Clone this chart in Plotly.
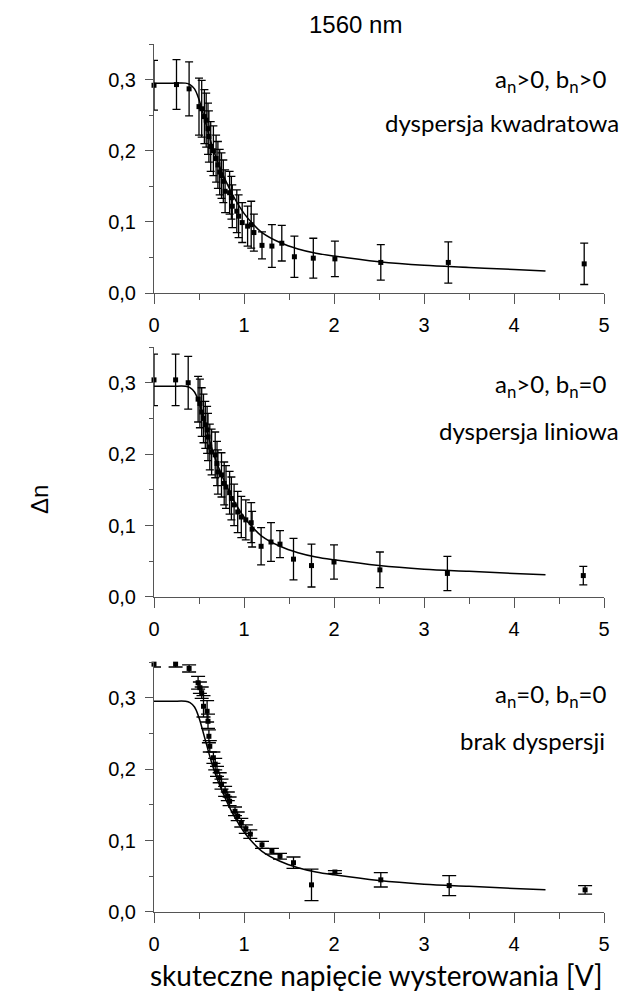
import plotly.graph_objects as go

# fitted curve (same model drawn in every panel)
x_fit = [0.0, 0.2, 0.35, 0.40, 0.45, 0.50, 0.55, 0.60, 0.65, 0.70, 0.80, 0.90,
         1.00, 1.10, 1.20, 1.40, 1.60, 1.80, 2.00, 2.50, 3.00, 3.50, 4.00, 4.35]
y_fit = [0.295, 0.295, 0.295, 0.293, 0.287, 0.272, 0.250, 0.227, 0.205, 0.187, 0.157, 0.132,
         0.112, 0.097, 0.085, 0.071, 0.062, 0.056, 0.052, 0.044, 0.039, 0.036, 0.033, 0.031]

# a_n>0, b_n>0 - dyspersja kwadratowa
x_kw = [0.00, 0.25, 0.39, 0.50, 0.53, 0.56, 0.58, 0.60, 0.61, 0.63, 0.66, 0.69, 0.71, 0.73,
        0.75, 0.77, 0.79, 0.84, 0.86, 0.87, 0.92, 0.94, 0.98, 1.04, 1.08, 1.11, 1.20, 1.31,
        1.42, 1.56, 1.77, 2.01, 2.52, 3.27, 4.78]
y_kw = [0.292, 0.293, 0.287, 0.262, 0.259, 0.248, 0.243, 0.231, 0.220, 0.206, 0.200, 0.189,
        0.180, 0.170, 0.165, 0.157, 0.143, 0.141, 0.134, 0.122, 0.115, 0.108, 0.099, 0.094,
        0.096, 0.085, 0.067, 0.066, 0.070, 0.051, 0.049, 0.048, 0.043, 0.043, 0.041]
err_kw = [0.035, 0.035, 0.038, 0.040, 0.040, 0.038, 0.038, 0.036, 0.036, 0.035, 0.035, 0.033,
          0.033, 0.032, 0.032, 0.030, 0.030, 0.030, 0.030, 0.030, 0.030, 0.030, 0.028, 0.028,
          0.033, 0.026, 0.019, 0.030, 0.025, 0.029, 0.028, 0.025, 0.025, 0.029, 0.029]

# a_n>0, b_n=0 - dyspersja liniowa
x_lin = [0.00, 0.24, 0.38, 0.49, 0.51, 0.53, 0.55, 0.57, 0.59, 0.60, 0.62, 0.64, 0.68, 0.70,
         0.71, 0.75, 0.78, 0.80, 0.84, 0.86, 0.89, 0.93, 0.97, 1.02, 1.08, 1.09, 1.19, 1.30,
         1.40, 1.55, 1.75, 2.00, 2.51, 3.26, 4.77]
y_lin = [0.304, 0.304, 0.300, 0.277, 0.271, 0.259, 0.250, 0.241, 0.234, 0.224, 0.210, 0.203,
         0.199, 0.187, 0.175, 0.171, 0.159, 0.154, 0.146, 0.138, 0.129, 0.119, 0.112, 0.108,
         0.104, 0.095, 0.071, 0.077, 0.074, 0.053, 0.044, 0.049, 0.038, 0.033, 0.030]
err_lin = [0.036, 0.036, 0.037, 0.032, 0.034, 0.034, 0.034, 0.033, 0.033, 0.033, 0.032, 0.032,
           0.032, 0.031, 0.031, 0.031, 0.030, 0.030, 0.030, 0.030, 0.029, 0.029, 0.029, 0.028,
           0.028, 0.025, 0.026, 0.027, 0.019, 0.029, 0.030, 0.024, 0.025, 0.024, 0.013]

# a_n=0, b_n=0 - brak dyspersji
x_br = [0.00, 0.24, 0.39, 0.49, 0.51, 0.53, 0.55, 0.59, 0.60, 0.61, 0.62, 0.66, 0.68, 0.70,
        0.73, 0.75, 0.79, 0.82, 0.84, 0.90, 0.93, 0.97, 1.02, 1.07, 1.20, 1.31, 1.40, 1.55,
        1.75, 2.01, 2.52, 3.28, 4.79]
y_br = [0.347, 0.347, 0.341, 0.321, 0.314, 0.307, 0.288, 0.281, 0.267, 0.246, 0.232, 0.216,
        0.207, 0.197, 0.188, 0.179, 0.169, 0.162, 0.155, 0.141, 0.134, 0.125, 0.116, 0.109,
        0.094, 0.085, 0.078, 0.069, 0.038, 0.056, 0.045, 0.037, 0.031]
err_br = [0.004, 0.004, 0.005, 0.009, 0.008, 0.008, 0.015, 0.015, 0.010, 0.009, 0.008, 0.008,
          0.008, 0.007, 0.007, 0.007, 0.007, 0.006, 0.006, 0.006, 0.006, 0.006, 0.006, 0.006,
          0.005, 0.004, 0.004, 0.008, 0.022, 0.002, 0.010, 0.014, 0.006]

panels = [
    (x_kw, y_kw, err_kw, 4, "a<sub>n</sub>>0, b<sub>n</sub>>0", "dyspersja kwadratowa"),
    (x_lin, y_lin, err_lin, 4, "a<sub>n</sub>>0, b<sub>n</sub>=0", "dyspersja liniowa"),
    (x_br, y_br, err_br, 7, "a<sub>n</sub>=0, b<sub>n</sub>=0", "brak dyspersji"),
]

# page has an 8px body margin, so the figure is drawn 8px in from the corner
domains = [[0.7131, 1.0], [0.3629, 0.6509], [0.0, 0.288]]
label_y = [(0.855, 0.683), (0.848, 0.668), (0.868, 0.688)]
label_x = [(1.009, 1.037), (1.009, 1.037), (1.009, 1.007)]

TICK_FONT = dict(family="Liberation Sans", size=20, color="black")
TEXT_FONT = dict(family="Lato", size=24, color="black")
AX = "#555"

fig = go.Figure()
layout = {}
annotations = []

for i, (xs, ys, es, capw, lab1, lab2) in enumerate(panels):
    n = i + 1
    xa = "x" if n == 1 else f"x{n}"
    ya = "y" if n == 1 else f"y{n}"

    fig.add_trace(go.Scatter(
        x=x_fit, y=y_fit, mode="lines", line=dict(color="black", width=1.5, shape="spline"),
        xaxis=xa, yaxis=ya, showlegend=False, hoverinfo="skip",
    ))
    fig.add_trace(go.Scatter(
        x=xs, y=ys, mode="markers",
        marker=dict(symbol="square", size=5, color="black"),
        error_y=dict(type="data", array=es, color="black", thickness=1.3, width=capw),
        xaxis=xa, yaxis=ya, showlegend=False, cliponaxis=False,
    ))

    xkey = "xaxis" if n == 1 else f"xaxis{n}"
    ykey = "yaxis" if n == 1 else f"yaxis{n}"
    layout[xkey] = dict(
        domain=[0, 1], anchor=ya, range=[0, 5], dtick=1, tick0=0,
        showline=True, linecolor=AX, linewidth=1, zeroline=False, showgrid=False,
        ticks="outside", ticklen=10, tickcolor=AX, tickfont=TICK_FONT, ticklabelstandoff=4,
        minor=dict(dtick=0.5, tick0=0, ticks="outside", ticklen=6, tickcolor=AX),
    )
    layout[ykey] = dict(
        domain=domains[i], anchor=xa, range=[0, 0.35], tickvals=[0, 0.1, 0.2, 0.3],
        tickformat=".1f", showline=True, linecolor=AX, linewidth=1, zeroline=False,
        showgrid=False, ticks="outside", ticklen=8, tickcolor=AX, tickfont=TICK_FONT,
        ticklabelstandoff=5,
        minor=dict(dtick=0.05, tick0=0, ticks="outside", ticklen=4, tickcolor=AX),
    )

    annotations.append(dict(
        text=lab1, xref=f"{xa} domain", yref=f"{ya} domain", x=label_x[i][0], y=label_y[i][0],
        xanchor="right", yanchor="middle", showarrow=False, font=TEXT_FONT,
    ))
    annotations.append(dict(
        text=lab2, xref=f"{xa} domain", yref=f"{ya} domain", x=label_x[i][1], y=label_y[i][1],
        xanchor="right", yanchor="middle", showarrow=False, font=TEXT_FONT,
    ))

annotations.append(dict(
    text="1560 nm", xref="paper", yref="paper", x=0.447, y=1.022, xanchor="center",
    yanchor="middle", showarrow=False, font=dict(family="Liberation Sans", size=24, color="black"),
))
annotations.append(dict(
    text="skuteczne napięcie wysterowania [V]", xref="paper", yref="paper", x=0.495, y=-0.0726,
    xanchor="center", yanchor="middle", showarrow=False, font=dict(family="Lato", size=28, color="black"),
))
annotations.append(dict(
    text="Δn", xref="paper", yref="paper", x=-0.253, y=0.4747, textangle=-90,
    xanchor="center", yanchor="middle", showarrow=False,
    font=dict(family="Liberation Sans", size=24, color="black"),
))

fig.update_layout(
    **layout,
    annotations=annotations,
    width=615, height=983,
    margin=dict(l=146, r=19, t=36, b=79),
    plot_bgcolor="white", paper_bgcolor="white",
    separators=", ",
    showlegend=False,
)

fig.write_html("out.html")
